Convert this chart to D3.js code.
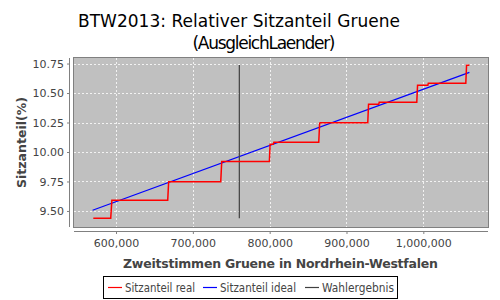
<!DOCTYPE html>
<html><head><meta charset="utf-8">
<script src="https://cdn.jsdelivr.net/npm/d3@7"></script>
<style>body{margin:0;background:#fff;} svg{display:block;font-family:"DejaVu Sans",sans-serif;}</style>
</head><body>
<svg id="c" width="500" height="300"></svg>
<script>
// Data
const realVotes = [570400, 593100, 594600, 667300, 668500, 736300, 737600, 799600, 800600, 804800, 805500, 863900, 865000, 865600, 927700, 928700, 942000, 942600, 991500, 992500, 1005900, 1006500, 1055300, 1056300, 1060000];
const realShare = [9.438, 9.438, 9.591, 9.591, 9.748, 9.748, 9.919, 9.919, 10.065, 10.065, 10.082, 10.082, 10.240, 10.248, 10.248, 10.404, 10.404, 10.421, 10.421, 10.565, 10.565, 10.582, 10.582, 10.735, 10.735];
const idealVotes = [569500, 1060000];
const idealShare = [9.506, 10.675];
const resultVotes = [760500, 760500];
const resultShare = [9.438, 10.737];
const xTicks = [600000, 700000, 800000, 900000, 1000000];
const yTicks = [9.50, 9.75, 10.00, 10.25, 10.50, 10.75];
const legendItems = ["Sitzanteil real", "Sitzanteil ideal", "Wahlergebnis"];
const legendColors = ["#ff0000", "#0000ff", "#404040"];

const svg = d3.select("#c");
const L = 74, R = 488, T = 58, B = 227;
const x = d3.scaleLinear().domain([545300, 1084200]).range([L, R]);
const y = d3.scaleLinear().domain([9.364, 10.797]).range([B, T]);

// Title
svg.append("text").attr("x", 239).attr("y", 27).attr("text-anchor", "middle")
  .attr("font-size", 17).attr("fill", "#000").attr("textLength", 322).text("BTW2013: Relativer Sitzanteil Gruene");
svg.append("text").attr("x", 264).attr("y", 49).attr("text-anchor", "middle")
  .attr("font-size", 17).attr("fill", "#000").attr("textLength", 143).text("(AusgleichLaender)");

// Plot background
svg.append("rect").attr("x", L).attr("y", T).attr("width", R - L).attr("height", B - T)
  .attr("fill", "#c0c0c0");

// Gridlines
const g = svg.append("g");
g.selectAll(".gx").data(xTicks).join("line")
  .attr("x1", d => Math.round(x(d)) + 0.5).attr("x2", d => Math.round(x(d)) + 0.5)
  .attr("y1", T).attr("y2", B).attr("stroke", "#ffffff").attr("stroke-width", 0.8)
  .attr("stroke-dasharray", "2,2");
g.selectAll(".gy").data(yTicks).join("line")
  .attr("y1", d => Math.round(y(d)) + 0.5).attr("y2", d => Math.round(y(d)) + 0.5)
  .attr("x1", L).attr("x2", R).attr("stroke", "#ffffff").attr("stroke-width", 0.8)
  .attr("stroke-dasharray", "2,2");

// Series
const line = d3.line().x(d => x(d[0])).y(d => y(d[1]));
svg.append("path").datum(idealVotes.map((v, i) => [v, idealShare[i]]))
  .attr("d", line).attr("fill", "none").attr("stroke", "#0000ff").attr("stroke-width", 1.2);
svg.append("path").datum(resultVotes.map((v, i) => [v, resultShare[i]]))
  .attr("d", line).attr("fill", "none").attr("stroke", "#404040").attr("stroke-width", 1.2);
svg.append("path").datum(realVotes.map((v, i) => [v, realShare[i]]))
  .attr("d", line).attr("fill", "none").attr("stroke", "#ff0000").attr("stroke-width", 1.5);

// Plot border
svg.append("rect").attr("x", L - 0.5).attr("y", T - 0.5).attr("width", R - L + 1).attr("height", B - T + 1)
  .attr("fill", "none").attr("stroke", "#808080").attr("stroke-width", 1);

// Axes
const xAxis = d3.axisBottom(x).tickValues(xTicks).tickFormat(d3.format(",")).tickSize(3).tickSizeOuter(0);
const gx = svg.append("g").attr("transform", `translate(0,${B + 4})`).call(xAxis);
gx.select(".domain").attr("stroke", "#808080").attr("d", `M${L},0.5H${R}`);
gx.selectAll(".tick line").attr("stroke", "#808080");
gx.selectAll(".tick text").attr("font-size", 11).attr("fill", "#444").attr("font-family", "DejaVu Sans").attr("dy", "0.9em");

const yAxis = d3.axisLeft(y).tickValues(yTicks).tickFormat(d3.format(".2f")).tickSize(3).tickSizeOuter(0);
const gy = svg.append("g").attr("transform", `translate(${L - 4},0)`).call(yAxis);
gy.select(".domain").attr("stroke", "#808080").attr("d", `M-0.5,${T}V${B}`);
gy.selectAll(".tick line").attr("stroke", "#808080");
gy.selectAll(".tick text").attr("font-size", 11).attr("fill", "#444").attr("font-family", "DejaVu Sans");

// Axis labels
svg.append("text").attr("x", 280.5).attr("y", 268).attr("text-anchor", "middle")
  .attr("font-size", 12.5).attr("font-weight", "bold").attr("fill", "#444").attr("textLength", 315)
  .text("Zweitstimmen Gruene in Nordrhein-Westfalen");
svg.append("text").attr("transform", `translate(26,${(T + B) / 2}) rotate(-90)`).attr("text-anchor", "middle")
  .attr("font-size", 12.5).attr("font-weight", "bold").attr("fill", "#444")
  .text("Sitzanteil(%)");

// Legend
svg.append("rect").attr("x", 103.5).attr("y", 276.5).attr("width", 294).attr("height", 22)
  .attr("fill", "#fff").attr("stroke", "#000").attr("stroke-width", 1);
const lx = [108, 203, 305];
const lw = [70, 76, 72];
legendItems.forEach((t, i) => {
  svg.append("line").attr("x1", lx[i]).attr("x2", lx[i] + 14).attr("y1", 287.5).attr("y2", 287.5)
    .attr("stroke", legendColors[i]).attr("stroke-width", 1.2);
  svg.append("text").attr("x", lx[i] + 17).attr("y", 292).attr("font-size", 11.5).attr("fill", "#444")
    .attr("textLength", lw[i]).attr("lengthAdjust", "spacingAndGlyphs").text(t);
});
</script>
</body></html>
